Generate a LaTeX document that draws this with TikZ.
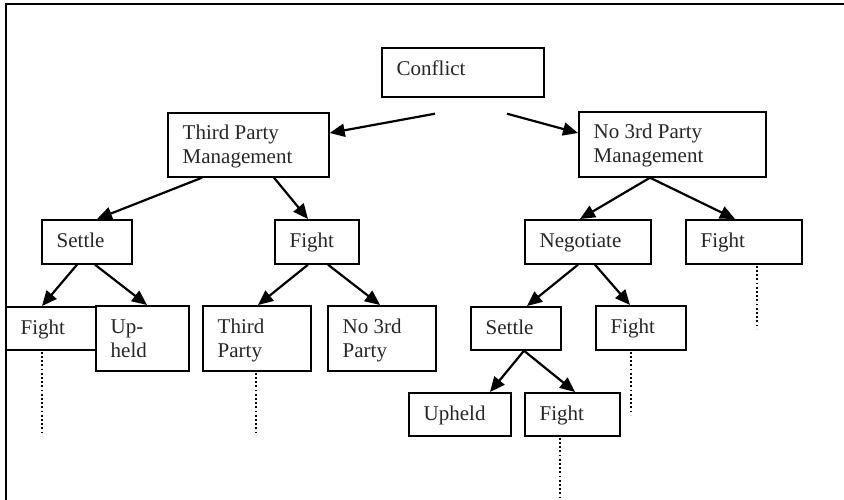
\documentclass[tikz,border=0pt]{standalone}
\usepackage{fontspec}
\setmainfont{Liberation Serif}
\usetikzlibrary{calc,arrows.meta}

\tikzset{
  frame/.style={line width=1.8pt, line cap=rect},
  boxframe/.style={draw, fill=white, line width=1.7pt, inner sep=0pt, anchor=north west},
  boxtext/.style={anchor=base west, inner sep=0pt, align=left, text=black!85,
    font=\fontsize{21}{24}\selectfont},
  link/.style={line width=2.2pt, -{Triangle[length=15pt, width=13pt]}},
  trail/.style={line width=1.5pt, dash pattern=on 1.8pt off 2.4pt},
}

% \treebox[baseline of last line]{name}{x}{y}{width}{height}{text}
\newcommand{\treebox}[7][28]{%
  \node[boxframe, minimum width=#5pt, minimum height=#6pt] (#2) at (#3,#4) {};
  \node[boxtext] (#2-t) at ($(#2.north west)+(15.5,#1)$) {#7};
}

\begin{document}
\begin{tikzpicture}[x=1pt, y=-1pt]
\useasboundingbox (0,0) rectangle (844,499);

% open frame along the top and left
\draw[frame] (844,3.7) -- (5.8,3.7) -- (5.8,499);

% boxes, top row to bottom row
\treebox{conflict}{381}{47}{162}{49}{Conflict}
\treebox[51.5]{tpm}{167}{112}{161}{64}{Third Party\\Management}
\treebox[51.5]{nomgmt}{578}{111}{187}{65}{No 3rd Party\\Management}

\treebox{settleL}{41}{219}{90}{44}{Settle}
\treebox{fightM}{274}{219}{84}{44}{Fight}
\treebox{negotiate}{524}{219}{126}{44}{Negotiate}
\treebox{fightR}{685}{219}{116}{44}{Fight}

\treebox{fightLL}{5}{306}{90}{43}{Fight}
\treebox[52]{upheldL}{95}{305}{93}{65}{Up-\\held}
\treebox[52]{thirdP}{202}{305}{108}{65}{Third\\Party}
\treebox[52]{noThird}{327}{305}{108}{65}{No 3rd\\Party}
\treebox{settleR}{470}{306}{90}{43}{Settle}
\treebox{fightN}{595}{305}{90}{44}{Fight}

\treebox{upheldR}{408}{392}{102}{43}{Upheld}
\treebox{fightB}{524}{392}{95}{43}{Fight}

% the two branches leave from a gap below the root
\coordinate (rootL) at ($(conflict.south west)+(54,16)$);
\coordinate (rootR) at ($(conflict.south west)+(126,16)$);
\draw[link] (rootL) -- ($(tpm.north east)+(0,21)$);
\draw[link] (rootR) -- ($(nomgmt.north west)+(0,22)$);

\draw[link] ($(tpm.south west)+(35,0)$) -- ($(settleL.north west)+(56,0)$);
\draw[link] ($(tpm.south west)+(107,0)$) -- ($(fightM.north west)+(34,0)$);
\draw[link] ($(nomgmt.south west)+(72,0)$) -- ($(negotiate.north west)+(56,0)$);
\draw[link] ($(nomgmt.south west)+(72,0)$) -- ($(fightR.north west)+(50,0)$);

\draw[link] ($(settleL.south west)+(36,0)$) -- ($(fightLL.north west)+(37,0)$);
\draw[link] ($(settleL.south west)+(54,0)$) -- ($(upheldL.north west)+(52,0)$);
\draw[link] ($(fightM.south west)+(34,0)$) -- ($(thirdP.north west)+(56,0)$);
\draw[link] ($(fightM.south west)+(54,0)$) -- ($(noThird.north west)+(53,0)$);
\draw[link] ($(negotiate.south west)+(54,0)$) -- ($(settleR.north west)+(57,0)$);
\draw[link] ($(negotiate.south west)+(71,0)$) -- ($(fightN.north west)+(35,0)$);

\draw[link] ($(settleR.south west)+(54,0)$) -- ($(upheldR.north west)+(82,0)$);
\draw[link] ($(settleR.south west)+(54,0)$) -- ($(fightB.north west)+(51,0)$);

% dotted trails for outcomes that continue
\draw[trail] ($(fightLL.south west)+(37,1)$) -- ++(0,84);
\draw[trail] ($(thirdP.south west)+(54,1)$) -- ++(0,63);
\draw[trail] ($(fightR.south west)+(72,1)$) -- ++(0,63);
\draw[trail] ($(fightN.south west)+(36,1)$) -- ++(0,63);
\draw[trail] ($(fightB.south west)+(36,1)$) -- ++(0,63);
\end{tikzpicture}
\end{document}
